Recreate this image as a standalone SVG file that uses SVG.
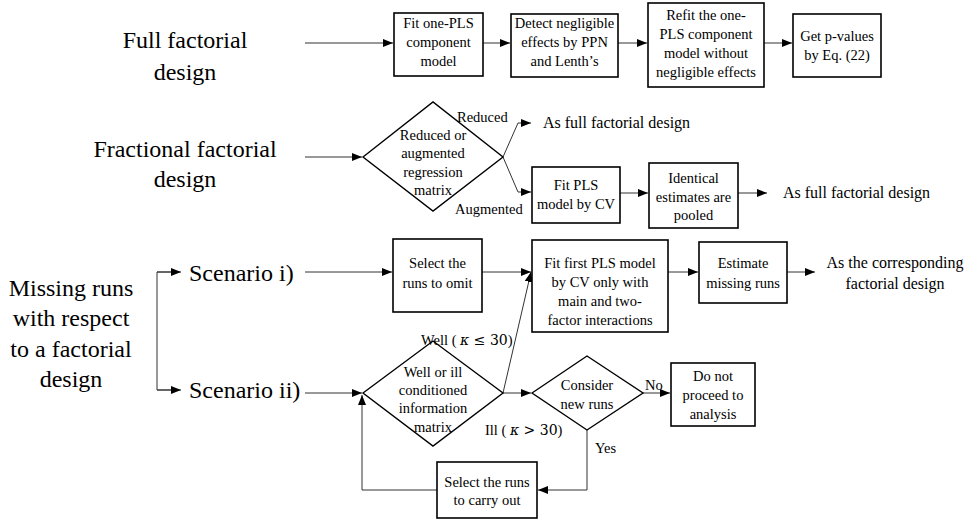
<svg xmlns="http://www.w3.org/2000/svg" width="975" height="520" viewBox="0 0 975 520" font-family="'Liberation Serif', 'DejaVu Serif', serif">
<style>
text{fill:#000}
.big{font-size:24px;text-anchor:middle}
.sc{font-size:24px}
.bt{font-size:14.5px;text-anchor:middle}
.lb{font-size:14.5px}
.out{font-size:16px}
.box{fill:#fff;stroke:#000;stroke-width:1.6}
.dia{fill:#fff;stroke:#000;stroke-width:1.4}
.c{fill:none;stroke:#333;stroke-width:1}
.k{font-family:"DejaVu Serif","Liberation Serif",serif;font-style:italic;font-size:14px}
.m{font-family:"DejaVu Serif","Liberation Serif",serif;font-size:14px}
</style>
<defs>
<marker id="ah" markerUnits="userSpaceOnUse" markerWidth="10" markerHeight="8" refX="10" refY="4" orient="auto">
<path d="M0,0 L10,4 L0,8 z" fill="#000"/>
</marker>
</defs>

<g id="titles">
<text class="big" x="185" y="48">Full factorial</text>
<text class="big" x="185" y="80">design</text>
<text class="big" x="185" y="157">Fractional factorial</text>
<text class="big" x="185" y="187">design</text>
<text class="big" x="71" y="296">Missing runs</text>
<text class="big" x="71" y="326">with respect</text>
<text class="big" x="71" y="357">to a factorial</text>
<text class="big" x="71" y="387">design</text>
</g>

<g id="connectors">
<line class="c" x1="305" y1="43" x2="393" y2="43" marker-end="url(#ah)"/>
<line class="c" x1="483" y1="43" x2="510" y2="43" marker-end="url(#ah)"/>
<line class="c" x1="618" y1="43" x2="647" y2="43" marker-end="url(#ah)"/>
<line class="c" x1="764" y1="43" x2="792" y2="43" marker-end="url(#ah)"/>
<line class="c" x1="305" y1="157" x2="362" y2="157" marker-end="url(#ah)"/>
<polyline class="c" points="503,157 518,123 531,123" marker-end="url(#ah)"/>
<polyline class="c" points="503,157 518,192 531,192" marker-end="url(#ah)"/>
<line class="c" x1="620" y1="193" x2="648" y2="193" marker-end="url(#ah)"/>
<line class="c" x1="738" y1="193" x2="767" y2="193" marker-end="url(#ah)"/>
<polyline class="c" points="178,272 157,272 157,390 178,390"/>
<line class="c" x1="157" y1="272" x2="181" y2="272" marker-end="url(#ah)"/>
<line class="c" x1="157" y1="390" x2="181" y2="390" marker-end="url(#ah)"/>
<line class="c" x1="305" y1="272" x2="392" y2="272" marker-end="url(#ah)"/>
<line class="c" x1="482" y1="272" x2="531" y2="272" marker-end="url(#ah)"/>
<line class="c" x1="503" y1="393" x2="531" y2="272" marker-end="url(#ah)"/>
<line class="c" x1="668" y1="272" x2="698" y2="272" marker-end="url(#ah)"/>
<line class="c" x1="787" y1="272" x2="815" y2="272" marker-end="url(#ah)"/>
<line class="c" x1="305" y1="393" x2="362" y2="393" marker-end="url(#ah)"/>
<line class="c" x1="503" y1="393" x2="531" y2="393" marker-end="url(#ah)"/>
<line class="c" x1="643" y1="393" x2="670" y2="393" marker-end="url(#ah)"/>
<polyline class="c" points="587,430 587,490 538,490" marker-end="url(#ah)"/>
<polyline class="c" points="437,490 362,490 362,395" marker-end="url(#ah)"/>
</g>

<g id="n_fit1">
<rect class="box" x="394" y="13" width="89" height="63"/>
<text class="bt" x="438.5" y="28">Fit one-PLS</text>
<text class="bt" x="438.5" y="47">component</text>
<text class="bt" x="438.5" y="66">model</text>
</g>
<g id="n_detect">
<rect class="box" x="511" y="14" width="107" height="63"/>
<text class="bt" x="564.5" y="28">Detect negligible</text>
<text class="bt" x="564.5" y="47">effects by PPN</text>
<text class="bt" x="564.5" y="66">and Lenth’s</text>
</g>
<g id="n_refit">
<rect class="box" x="648" y="3" width="116" height="84"/>
<text class="bt" x="706" y="20">Refit the one-</text>
<text class="bt" x="706" y="39">PLS component</text>
<text class="bt" x="706" y="58">model without</text>
<text class="bt" x="706" y="77">negligible effects</text>
</g>
<g id="n_pvalues">
<rect class="box" x="793" y="14" width="88" height="63"/>
<text class="bt" x="837" y="41">Get p-values</text>
<text class="bt" x="837" y="60">by Eq. (22)</text>
</g>

<g id="n_reduced_dec">
<polygon class="dia" points="363,157 433,102 503,157 433,211"/>
<text class="bt" x="433" y="140">Reduced or</text>
<text class="bt" x="433" y="158">augmented</text>
<text class="bt" x="433" y="177">regression</text>
<text class="bt" x="433" y="195">matrix</text>
<text class="lb" x="457" y="122">Reduced</text>
<text class="lb" x="455" y="214">Augmented</text>
</g>
<g id="n_asfull1">
<text class="out" x="543" y="128">As full factorial design</text>
</g>
<g id="n_fitpls">
<rect class="box" x="532" y="167" width="88" height="56"/>
<text class="bt" x="576" y="190">Fit PLS</text>
<text class="bt" x="576" y="209">model by CV</text>
</g>
<g id="n_identical">
<rect class="box" x="649" y="163" width="89" height="65"/>
<text class="bt" x="693.5" y="183">Identical</text>
<text class="bt" x="693.5" y="202">estimates are</text>
<text class="bt" x="693.5" y="220">pooled</text>
</g>
<g id="n_asfull2">
<text class="out" x="783" y="198">As full factorial design</text>
</g>

<g id="n_scen1"><text class="sc" x="189" y="281">Scenario i)</text></g>
<g id="n_scen2"><text class="sc" x="189" y="398">Scenario ii)</text></g>

<g id="n_omit">
<rect class="box" x="393" y="239" width="89" height="73"/>
<text class="bt" x="437.5" y="268">Select the</text>
<text class="bt" x="437.5" y="288">runs to omit</text>
</g>
<g id="n_fitfirst">
<rect class="box" x="532" y="240" width="136" height="92"/>
<text class="bt" x="600" y="268">Fit first PLS model</text>
<text class="bt" x="600" y="287">by CV only with</text>
<text class="bt" x="600" y="306">main and two-</text>
<text class="bt" x="600" y="325">factor interactions</text>
</g>
<g id="n_estimate">
<rect class="box" x="699" y="242" width="88" height="61"/>
<text class="bt" x="743" y="268">Estimate</text>
<text class="bt" x="743" y="288">missing runs</text>
</g>
<g id="n_ascorr">
<text class="out" x="895" y="268" text-anchor="middle">As the corresponding</text>
<text class="out" x="895" y="289" text-anchor="middle">factorial design</text>
</g>

<g id="n_cond">
<polygon class="dia" points="363,393 433,341 503,393 433,446"/>
<text class="bt" x="433" y="377">Well or ill</text>
<text class="bt" x="433" y="395">conditioned</text>
<text class="bt" x="433" y="413">information</text>
<text class="bt" x="433" y="432">matrix</text>
<text class="lb" x="421" y="345">Well ( <tspan class="k">κ</tspan><tspan class="m"> ≤ 30</tspan>)</text>
<text class="lb" x="485" y="435">Ill ( <tspan class="k">κ</tspan><tspan class="m"> &gt; 30</tspan>)</text>
</g>
<g id="n_consider">
<polygon class="dia" points="532,393 587,356 643,393 587,430"/>
<text class="bt" x="587" y="390">Consider</text>
<text class="bt" x="587" y="409">new runs</text>
<text class="lb" x="645" y="390">No</text>
<text class="lb" x="595" y="453">Yes</text>
</g>
<g id="n_donot">
<rect class="box" x="671" y="363" width="84" height="63"/>
<text class="bt" x="713" y="381">Do not</text>
<text class="bt" x="713" y="400">proceed to</text>
<text class="bt" x="713" y="419">analysis</text>
</g>
<g id="n_carry">
<rect class="box" x="437" y="462" width="100" height="56"/>
<text class="bt" x="487" y="487">Select the runs</text>
<text class="bt" x="487" y="505">to carry out</text>
</g>
</svg>
